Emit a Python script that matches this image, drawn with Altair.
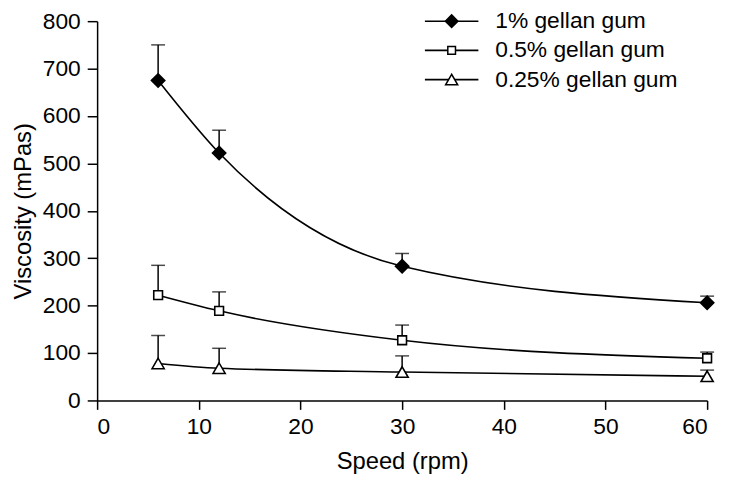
import altair as alt
import pandas as pd

# ---- data ----
speed = [6, 12, 30, 60]
series = ["1% gellan gum", "0.5% gellan gum", "0.25% gellan gum"]
visc_1 = [675, 522, 283, 206]
err_1 = [75, 48, 27, 14]
visc_05 = [222, 189, 127, 89]
err_05 = [63, 40, 32, 13]
visc_025 = [78, 68, 60, 51]
err_025 = [59, 42, 34, 13]

x_ticks = [0, 10, 20, 30, 40, 50, 60]
y_ticks = [0, 100, 200, 300, 400, 500, 600, 700, 800]

rows = []
for name, vals, errs in [(series[0], visc_1, err_1),
                         (series[1], visc_05, err_05),
                         (series[2], visc_025, err_025)]:
    for s, v, e in zip(speed, vals, errs):
        rows.append({"series": name, "speed": s, "visc": v, "upper": v + e})
df = pd.DataFrame(rows)
legend_df = pd.DataFrame({"series": series})

FONT = "Liberation Sans"

# marker style per series (plot, legend)
styles = [
    {"shape": "diamond", "fill": "black", "size": 180, "leg_size": 160},
    {"shape": "square", "fill": "white", "size": 78, "leg_size": 60},
    {"shape": "triangle-up", "fill": "white", "size": 150, "leg_size": 150},
]

x_enc = alt.X("speed:Q", scale=alt.Scale(domain=[0, 60], nice=False),
              axis=alt.Axis(values=x_ticks, title="Speed (rpm)", grid=False,
                            tickSize=9, labelPadding=6, titlePadding=12))
y_enc = alt.Y("visc:Q", scale=alt.Scale(domain=[0, 800], nice=False),
              axis=alt.Axis(values=y_ticks, title="Viscosity (mPas)", grid=False,
                            tickSize=10, labelPadding=7, titlePadding=7))

base = alt.Chart(df)

err_rule = base.mark_rule(color="black", strokeWidth=1.5).encode(
    x=x_enc, y=y_enc, y2="upper:Q", detail="series:N")
err_cap = base.mark_tick(color="black", orient="horizontal", size=14,
                         thickness=1.5).encode(
    x="speed:Q", y="upper:Q", detail="series:N")

lines = base.mark_line(color="black", strokeWidth=1.6,
                       interpolate="monotone").encode(
    x="speed:Q", y="visc:Q", detail="series:N", order="speed:Q")

point_layers = []
for name, st in zip(series, styles):
    point_layers.append(
        base.transform_filter(alt.datum.series == name).mark_point(
            shape=st["shape"], size=st["size"], fill=st["fill"],
            stroke="black", strokeWidth=1.6, opacity=1, filled=True,
            fillOpacity=1, strokeOpacity=1,
        ).encode(x="speed:Q", y="visc:Q")
    )

main = alt.layer(err_rule, err_cap, lines, *point_layers)

# ---- legend (line + marker + label), rows placed by a point scale ----
leg_y = alt.Y("series:N", axis=None,
              scale=alt.Scale(type="point", domain=series, range=[0, 59],
                              padding=0))
leg_base = alt.Chart(legend_df)
leg_line = leg_base.mark_rule(color="black", strokeWidth=1.6).encode(
    x=alt.value(331), x2=alt.value(385), y=leg_y)
leg_pts = []
for name, st in zip(series, styles):
    leg_pts.append(
        leg_base.transform_filter(alt.datum.series == name).mark_point(
            shape=st["shape"], size=st["leg_size"], fill=st["fill"],
            stroke="black", strokeWidth=1.5, opacity=1, filled=True,
            fillOpacity=1, strokeOpacity=1,
        ).encode(x=alt.value(358), y=leg_y)
    )
leg_text = leg_base.mark_text(align="left", baseline="middle", font=FONT,
                              fontSize=23, color="black").encode(
    x=alt.value(402), y=leg_y, text="series:N")
legend = alt.layer(leg_line, *leg_pts, leg_text)

chart = alt.layer(main, legend).resolve_scale(
    y="independent"
).properties(
    width=616, height=383,
    autosize=alt.AutoSizeParams(type="none"),
    padding={"left": 90, "top": 11, "right": 14, "bottom": 75},
).configure_view(stroke=None).configure_axis(
    domainColor="black", domainWidth=1.5, tickColor="black", tickWidth=1.5,
    labelFont=FONT, labelFontSize=23, labelColor="black",
    titleFont=FONT, titleFontSize=24, titleColor="black", titleFontWeight="normal",
)

chart.save("out.html", embed_options={"renderer": "svg", "actions": False})
